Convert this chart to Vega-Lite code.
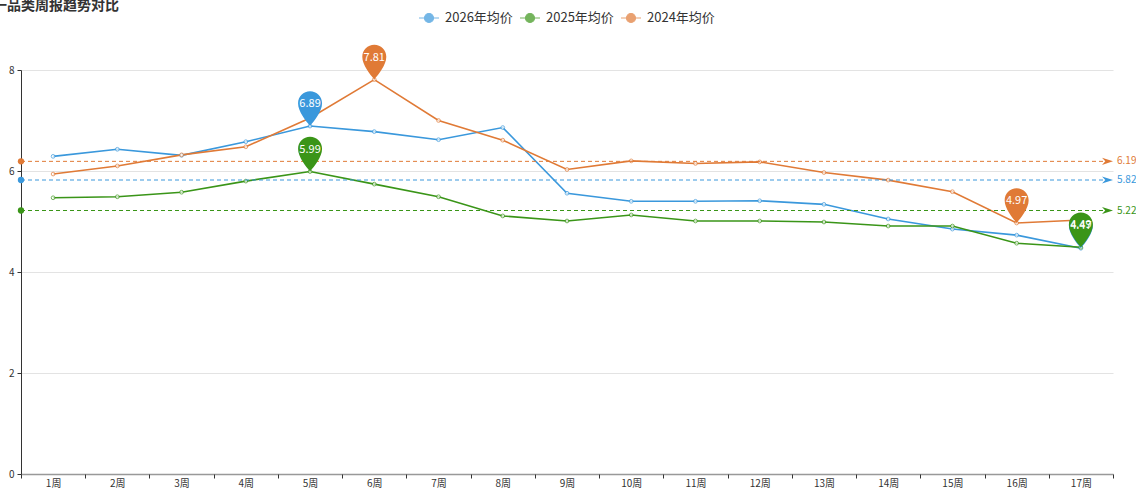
{
  "$schema": "https://vega.github.io/schema/vega-lite/v6.json",
  "width": 1092,
  "height": 404,
  "autosize": {"type": "none"},
  "padding": {"left": 21, "top": 70, "right": 23, "bottom": 15},
  "background": "white",
  "config": {
    "font": "Noto Sans CJK SC",
    "view": {"stroke": null}
  },
  "title": {
    "text": "单一品类周报趋势对比",
    "anchor": "start",
    "frame": "group",
    "orient": "top",
    "fontSize": 14,
    "fontWeight": "bold",
    "color": "#333333",
    "dx": -42,
    "offset": -13,
    "baseline": "middle"
  },
  "resolve": {"axis": {"x": "independent"}},
  "data": {
    "values": [
      {"series": "2026年均价", "week": 1, "value": 6.29},
      {"series": "2026年均价", "week": 2, "value": 6.43},
      {"series": "2026年均价", "week": 3, "value": 6.31},
      {"series": "2026年均价", "week": 4, "value": 6.58},
      {"series": "2026年均价", "week": 5, "value": 6.89},
      {"series": "2026年均价", "week": 6, "value": 6.78},
      {"series": "2026年均价", "week": 7, "value": 6.62},
      {"series": "2026年均价", "week": 8, "value": 6.86},
      {"series": "2026年均价", "week": 9, "value": 5.56},
      {"series": "2026年均价", "week": 10, "value": 5.40},
      {"series": "2026年均价", "week": 11, "value": 5.40},
      {"series": "2026年均价", "week": 12, "value": 5.41},
      {"series": "2026年均价", "week": 13, "value": 5.34},
      {"series": "2026年均价", "week": 14, "value": 5.05},
      {"series": "2026年均价", "week": 15, "value": 4.85},
      {"series": "2026年均价", "week": 16, "value": 4.73},
      {"series": "2026年均价", "week": 17, "value": 4.47},
      {"series": "2025年均价", "week": 1, "value": 5.47},
      {"series": "2025年均价", "week": 2, "value": 5.49},
      {"series": "2025年均价", "week": 3, "value": 5.58},
      {"series": "2025年均价", "week": 4, "value": 5.80},
      {"series": "2025年均价", "week": 5, "value": 5.99},
      {"series": "2025年均价", "week": 6, "value": 5.74},
      {"series": "2025年均价", "week": 7, "value": 5.49},
      {"series": "2025年均价", "week": 8, "value": 5.11},
      {"series": "2025年均价", "week": 9, "value": 5.01},
      {"series": "2025年均价", "week": 10, "value": 5.13},
      {"series": "2025年均价", "week": 11, "value": 5.01},
      {"series": "2025年均价", "week": 12, "value": 5.01},
      {"series": "2025年均价", "week": 13, "value": 4.99},
      {"series": "2025年均价", "week": 14, "value": 4.91},
      {"series": "2025年均价", "week": 15, "value": 4.91},
      {"series": "2025年均价", "week": 16, "value": 4.57},
      {"series": "2025年均价", "week": 17, "value": 4.49},
      {"series": "2024年均价", "week": 1, "value": 5.94},
      {"series": "2024年均价", "week": 2, "value": 6.10},
      {"series": "2024年均价", "week": 3, "value": 6.32},
      {"series": "2024年均价", "week": 4, "value": 6.48},
      {"series": "2024年均价", "week": 5, "value": 7.05},
      {"series": "2024年均价", "week": 6, "value": 7.81},
      {"series": "2024年均价", "week": 7, "value": 7.00},
      {"series": "2024年均价", "week": 8, "value": 6.61},
      {"series": "2024年均价", "week": 9, "value": 6.03},
      {"series": "2024年均价", "week": 10, "value": 6.20},
      {"series": "2024年均价", "week": 11, "value": 6.15},
      {"series": "2024年均价", "week": 12, "value": 6.18},
      {"series": "2024年均价", "week": 13, "value": 5.97},
      {"series": "2024年均价", "week": 14, "value": 5.82},
      {"series": "2024年均价", "week": 15, "value": 5.59},
      {"series": "2024年均价", "week": 16, "value": 4.97},
      {"series": "2024年均价", "week": 17, "value": 5.03}
    ]
  },
  "layer": [
    {
      "mark": {"type": "line", "strokeWidth": 1.6},
      "encoding": {
        "x": {
          "field": "week",
          "type": "quantitative",
          "scale": {"domain": [0.5, 17.5], "nice": false, "zero": false},
          "axis": {
            "orient": "bottom",
            "title": null,
            "values": [1, 2, 3, 4, 5, 6, 7, 8, 9, 10, 11, 12, 13, 14, 15, 16, 17],
            "labelExpr": "datum.value + '周'",
            "ticks": false,
            "domainColor": "#999999",
            "domainWidth": 1.5,
            "grid": false,
            "labelFontSize": 10,
            "labelColor": "#333333",
            "labelPadding": 4,
            "labelOverlap": false,
            "labelFlush": false,
            "labelBound": false
          }
        },
        "y": {
          "field": "value",
          "type": "quantitative",
          "scale": {"domain": [0, 8], "nice": false, "zero": true},
          "axis": {
            "title": null,
            "values": [0, 2, 4, 6, 8],
            "grid": true,
            "gridColor": "#e3e3e3",
            "domainColor": "#333333",
            "tickColor": "#333333",
            "tickSize": 4,
            "labelFontSize": 10,
            "labelColor": "#333333",
            "labelPadding": 3
          }
        },
        "stroke": {
          "field": "series",
          "type": "nominal",
          "scale": {"domain": ["2026年均价", "2025年均价", "2024年均价"], "range": ["#3a98dc", "#3a9518", "#e07a36"]},
          "legend": {
            "orient": "none",
            "legendX": 397,
            "legendY": -63,
            "direction": "horizontal",
            "title": null,
            "symbolType": "M-1,0H-0.45M0.45,0H1M-0.45,0A0.45,0.45 0 1,0 0.45,0A0.45,0.45 0 1,0 -0.45,0",
            "symbolSize": 400,
            "symbolStrokeWidth": 1.2,
            "symbolFillColor": "#ffffff",
            "labelFontSize": 13,
            "labelColor": "#333333",
            "labelOffset": 5,
            "columnPadding": 4
          }
        }
      }
    },
    {
      "mark": {"type": "point", "shape": "circle", "filled": true, "fill": "#ffffff", "size": 14, "strokeWidth": 1},
      "encoding": {
        "x": {
          "field": "week",
          "type": "quantitative",
          "axis": {
            "orient": "bottom",
            "title": null,
            "values": [0.5, 1.5, 2.5, 3.5, 4.5, 5.5, 6.5, 7.5, 8.5, 9.5, 10.5, 11.5, 12.5, 13.5, 14.5, 15.5, 16.5, 17.5],
            "labels": false,
            "domain": false,
            "grid": false,
            "ticks": true,
            "tickSize": 4,
            "tickColor": "#333333"
          }
        },
        "y": {"field": "value", "type": "quantitative"},
        "stroke": {
          "field": "series",
          "type": "nominal",
          "legend": {
            "orient": "none",
            "legendX": 397,
            "legendY": -63,
            "direction": "horizontal",
            "title": null,
            "symbolType": "M-1,0H-0.45M0.45,0H1M-0.45,0A0.45,0.45 0 1,0 0.45,0A0.45,0.45 0 1,0 -0.45,0",
            "symbolSize": 400,
            "symbolStrokeWidth": 1.2,
            "symbolFillColor": "#ffffff",
            "labelFontSize": 13,
            "labelColor": "#333333",
            "labelOffset": 5,
            "columnPadding": 4
          }
        }
      }
    },
    {
      "transform": [{"aggregate": [{"op": "mean", "field": "value", "as": "mean"}], "groupby": ["series"]}],
      "layer": [
        {
          "mark": {"type": "rule", "strokeDash": [4, 3], "strokeWidth": 1},
          "encoding": {
            "x": {"datum": 0.5, "axis": null},
            "x2": {"datum": 17.5},
            "y": {"field": "mean", "type": "quantitative"},
            "color": {
              "field": "series",
              "type": "nominal",
              "scale": {"domain": ["2026年均价", "2025年均价", "2024年均价"], "range": ["#3a98dc", "#3a9518", "#e07a36"]},
              "legend": null
            }
          }
        },
        {
          "mark": {"type": "point", "shape": "circle", "filled": true, "size": 40, "opacity": 1},
          "encoding": {
            "x": {"datum": 0.5, "axis": null},
            "y": {"field": "mean", "type": "quantitative"},
            "fill": {
              "field": "series",
              "type": "nominal",
              "scale": {"domain": ["2026年均价", "2025年均价", "2024年均价"], "range": ["#3a98dc", "#3a9518", "#e07a36"]},
              "legend": null
            }
          }
        },
        {
          "mark": {"type": "point", "shape": "M0,0L-2,-0.65L-1.4,0L-2,0.65Z", "filled": true, "size": 121, "opacity": 1, "strokeWidth": 0},
          "encoding": {
            "x": {"datum": 17.5, "axis": null},
            "y": {"field": "mean", "type": "quantitative"},
            "fill": {
              "field": "series",
              "type": "nominal",
              "legend": null
            }
          }
        },
        {
          "mark": {"type": "text", "align": "left", "baseline": "middle", "dx": 4, "fontSize": 10},
          "encoding": {
            "x": {"datum": 17.5, "axis": null},
            "y": {"field": "mean", "type": "quantitative"},
            "text": {"field": "mean", "type": "quantitative", "format": ".2f"},
            "fill": {
              "field": "series",
              "type": "nominal",
              "legend": null
            }
          }
        }
      ]
    },
    {
      "transform": [
        {"joinaggregate": [{"op": "max", "field": "value", "as": "vmax"}, {"op": "min", "field": "value", "as": "vmin"}], "groupby": ["series"]},
        {"filter": "datum.value === datum.vmax || datum.value === datum.vmin"}
      ],
      "layer": [
        {
          "mark": {"type": "point", "shape": "M0,0C-0.35,-0.45 -1,-1.2 -1,-1.9A1,1 0 1,1 1,-1.9C1,-1.2 0.35,-0.45 0,0Z", "filled": true, "size": 576, "opacity": 1, "strokeWidth": 0},
          "encoding": {
            "x": {"field": "week", "type": "quantitative", "axis": null},
            "y": {"field": "value", "type": "quantitative"},
            "fill": {
              "field": "series",
              "type": "nominal",
              "legend": null
            }
          }
        },
        {
          "mark": {"type": "text", "align": "center", "baseline": "middle", "dy": -22, "fontSize": 11, "color": "#ffffff"},
          "encoding": {
            "x": {"field": "week", "type": "quantitative", "axis": null},
            "y": {"field": "value", "type": "quantitative"},
            "text": {"field": "value", "type": "quantitative", "format": ".2f"}
          }
        }
      ]
    }
  ]
}
